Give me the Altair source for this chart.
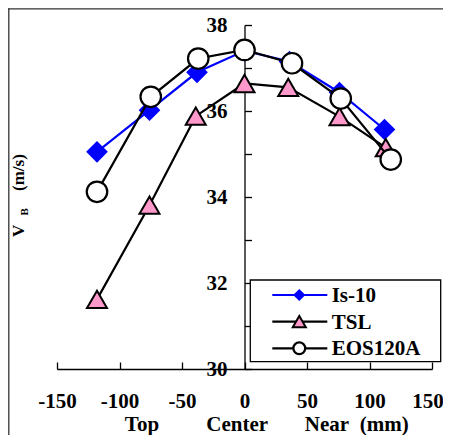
import altair as alt
import pandas as pd

# ---- data ----
series_names = ["Is-10", "TSL", "EOS120A"]

is10_pos = [-118, -76, -38, 0, 36, 76, 112]
is10_vb = [35.05, 36.02, 36.90, 37.40, 37.15, 36.43, 35.57]

tsl_pos = [-118, -76, -39, 0, 35, 76, 113]
tsl_vb = [31.62, 33.81, 35.88, 36.64, 36.55, 35.87, 35.15]

eos_pos = [-118, -75, -37, 0, 38, 77, 117]
eos_vb = [34.12, 36.33, 37.22, 37.42, 37.11, 36.29, 34.87]

x_ticks = [-150, -100, -50, 0, 50, 100, 150]
y_labels = [30, 32, 34, 36, 38]
y_ticks = [30, 31, 32, 33, 34, 35, 36, 37, 38]

rows = []
for name, xs, ys in [("Is-10", is10_pos, is10_vb), ("TSL", tsl_pos, tsl_vb), ("EOS120A", eos_pos, eos_vb)]:
    for a, b in zip(xs, ys):
        rows.append({"pos": a, "vb": b, "series": name})
df = pd.DataFrame(rows)

FONT = "Liberation Serif"
FS = 21
W, H = 375, 344
HALF = W / 2

x_scale = alt.Scale(domain=[-150, 150], nice=False, zero=False)
y_scale = alt.Scale(domain=[30, 38], nice=False, zero=False)

x_label_axis = alt.Axis(
    orient="bottom", values=x_ticks, ticks=False, tickSize=0,
    domain=True, domainColor="black", domainWidth=1.3,
    labelFont=FONT, labelFontSize=FS, labelFontWeight="bold", labelColor="black",
    labelPadding=38, labelBaseline="alphabetic", labelFlush=False, labelOverlap=False,
    labelOffset={"condition": {"test": "datum.value == 150", "value": -4.5}, "value": 0},
    labelExpr="'' + datum.value", grid=False,
    title="Top" + "\u00a0" * 9 + "Center" + "\u00a0" * 7 + "Near" + "\u00a0" * 2 + "(mm)",
    titleFont=FONT, titleFontSize=FS, titleFontWeight="bold", titleColor="black",
    titleX=67.3, titleY=61.5, titleAlign="left", titleAnchor="start",
    titleBaseline="alphabetic", titlePadding=0,
)
x_tick_axis = alt.Axis(
    orient="top", offset=-H, values=x_ticks, ticks=True, tickSize=7, tickWidth=1.3,
    tickColor="black", domain=False, labels=False, grid=False, title=None,
)
y_label_axis = alt.Axis(
    orient="left", offset=-HALF, values=y_labels, ticks=False, tickSize=0, domain=False,
    labelFont=FONT, labelFontSize=FS, labelFontWeight="bold", labelColor="black",
    labelPadding=17.5, labelFlush=False, labelOverlap=False, grid=False, title=None,
)
y_tick_axis = alt.Axis(
    orient="right", offset=-HALF, values=y_ticks, ticks=True, tickSize=7, tickWidth=1.3,
    tickColor="black", domain=True, domainColor="black", domainWidth=1.3,
    labels=False, grid=False, title=None,
)

base = alt.Chart(df)


def xy(xaxis=None, yaxis=None):
    xa = alt.X("pos:Q", scale=x_scale, axis=xaxis)
    ya = alt.Y("vb:Q", scale=y_scale, axis=yaxis)
    return xa, ya


styles = {
    "Is-10": dict(line="#0000FF", shape="diamond", fill="#0000FF", stroke="#0000FF", sw=0, size=470, lsize=150),
    "TSL": dict(line="black", shape="triangle-up", fill="#FF99CC", stroke="black", sw=2, size=400, lsize=170),
    "EOS120A": dict(line="black", shape="circle", fill="white", stroke="black", sw=2.2, size=420, lsize=140),
}

data_layers = []
for i, s in enumerate(series_names):
    st = styles[s]
    if i == 0:
        xa, ya = xy(x_label_axis, y_label_axis)
    else:
        xa, ya = xy(None, None)
    line = base.transform_filter(alt.datum.series == s).mark_line(
        color=st["line"], strokeWidth=2.2
    ).encode(x=xa, y=ya)
    if i == 0:
        xb, yb = xy(x_tick_axis, y_tick_axis)
    else:
        xb, yb = xy(None, None)
    pts = base.transform_filter(alt.datum.series == s).mark_point(
        shape=st["shape"], filled=True, fill=st["fill"], stroke=st["stroke"],
        strokeWidth=st["sw"], size=st["size"], opacity=1
    ).encode(x=xb, y=yb)
    data_layers += [line, pts]

one = alt.Chart(alt.Data(values=[{"k": 1}]))

# figure frame (only left and top edges are visible in the reference)
frame_left = one.mark_rule(color="#333333", strokeWidth=1.3).encode(
    x=alt.value(-48.2), y=alt.value(-16.5), y2=alt.value(430))
frame_top = one.mark_rule(color="#333333", strokeWidth=1.3).encode(
    x=alt.value(-49), x2=alt.value(400), y=alt.value(-16.2))

# legend
legend_box = one.mark_rect(fill="white", stroke="black", strokeWidth=1.3).encode(
    x=alt.value(193.3), x2=alt.value(383.7), y=alt.value(255), y2=alt.value(336.7))
legend_layers = [legend_box]
row_y = [270, 296.7, 323.3]
for s, yy in zip(series_names, row_y):
    st = styles[s]
    ld = alt.Chart(alt.Data(values=[{"label": s}]))
    legend_layers.append(ld.mark_rule(color=st["line"], strokeWidth=2.2).encode(
        x=alt.value(215.3), x2=alt.value(270.3), y=alt.value(yy)))
    legend_layers.append(ld.mark_point(
        shape=st["shape"], filled=True, fill=st["fill"], stroke=st["stroke"],
        strokeWidth=st["sw"], size=st["lsize"], opacity=1).encode(
        x=alt.value(242.3), y=alt.value(yy)))
    legend_layers.append(ld.mark_text(
        font=FONT, fontSize=FS, fontWeight="bold", color="black", align="left",
        baseline="middle", dy=1).encode(x=alt.value(274.7), y=alt.value(yy), text="label:N"))

# y-axis title: V with subscript B, then (m/s)
ytitle = [
    one.mark_text(text="V", font=FONT, fontSize=17, fontWeight="bold", color="black",
                  angle=270, align="left", baseline="alphabetic").encode(
        x=alt.value(-33), y=alt.value(212)),
    one.mark_text(text="B", font=FONT, fontSize=11, fontWeight="bold", color="black",
                  angle=270, align="left", baseline="alphabetic").encode(
        x=alt.value(-29.5), y=alt.value(190.5)),
    one.mark_text(text="(m/s)", font=FONT, fontSize=17, fontWeight="bold", color="black",
                  angle=270, align="left", baseline="alphabetic").encode(
        x=alt.value(-33), y=alt.value(166)),
]

chart = alt.layer(
    frame_left, frame_top, *data_layers, *legend_layers, *ytitle
).resolve_axis(x="independent", y="independent").properties(
    width=W, height=H,
    padding={"left": 49, "top": 17, "right": 11, "bottom": 66},
    autosize=alt.AutoSizeParams(type="none"),
).configure_view(stroke=None).configure_axis(grid=False)

chart.save("out.html", embed_options={"renderer": "svg", "actions": False})
